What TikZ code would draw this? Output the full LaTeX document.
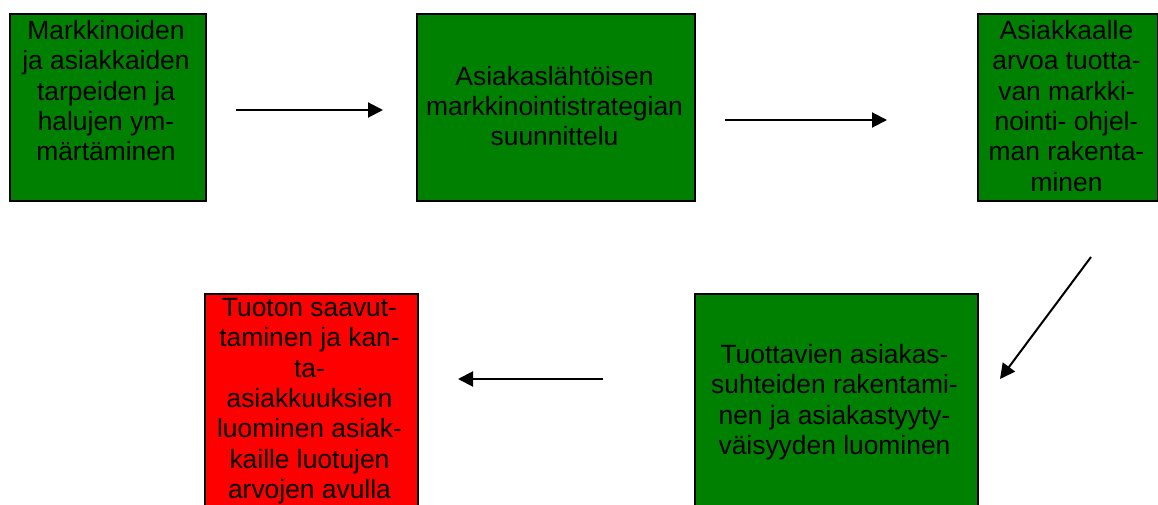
\documentclass[tikz,border=0pt]{standalone}
\usepackage{fontspec}
\setmainfont{Liberation Sans}
\usetikzlibrary{arrows.meta}
\definecolor{boxgreen}{RGB}{0,128,0}
\definecolor{boxred}{RGB}{255,0,0}
\tikzset{
  stepbox/.style={draw=black, line width=2pt, inner sep=0pt, anchor=north west},
  greenbox/.style={stepbox, fill=boxgreen},
  redbox/.style={stepbox, fill=boxred},
  boxtext/.style={align=center, inner sep=0pt, font=\fontsize{26.4}{30.4}\selectfont},
  flow/.style={line width=2pt, -{Triangle[length=15pt,width=15pt]}}
}
\begin{document}
\begin{tikzpicture}[x=1pt,y=-1pt]
\useasboundingbox (0,0) rectangle (1158,505);
\clip (0,0) rectangle (1158,505);
% boxes
\node[greenbox, minimum width=196pt, minimum height=186pt] (b1) at (8.5,13.5) {};
\node[greenbox, minimum width=278pt, minimum height=186pt] (b2) at (415.5,13.5) {};
\node[greenbox, minimum width=180pt, minimum height=186pt] (b3) at (976.5,13.5) {};
\node[greenbox, minimum width=283pt, minimum height=230pt] (b5) at (693.5,292.5) {};
\node[redbox, minimum width=213pt, minimum height=230pt] (b4) at (203.5,292.5) {};
% texts
\node[boxtext, anchor=north] (t1) at (106,20) {Markkinoiden\\ja asiakkaiden\\tarpeiden ja\\halujen ym-\\märtäminen};
\node[boxtext] (t2) at (554.5,106) {Asiakaslähtöisen\\markkinointistrategian\\suunnittelu};
\node[boxtext, anchor=north] (t3) at (1066.5,20) {Asiakkaalle\\arvoa tuotta-\\van markki-\\nointi- ohjel-\\man rakenta-\\minen};
\node[boxtext] (t5) at (834.5,402) {Tuottavien asiakas-\\suhteiden rakentami-\\nen ja asiakastyyty-\\väisyyden luominen};
\node[boxtext, anchor=north] (t4) at (309.5,298) {Tuoton saavut-\\taminen ja kan-\\ta-\\asiakkuuksien\\luominen asiak-\\kaille luotujen\\arvojen avulla};
% arrow ends
\coordinate (a1s) at (236,110);
\coordinate (a1e) at (383,110);
\coordinate (a2s) at (725,120);
\coordinate (a2e) at (887,120);
\coordinate (a3s) at (1091,257);
\coordinate (a3e) at (1000,379);
\coordinate (a4s) at (603,379);
\coordinate (a4e) at (458,379);
\draw[flow] (a1s) -- (a1e);
\draw[flow] (a2s) -- (a2e);
\draw[flow] (a3s) -- (a3e);
\draw[flow] (a4s) -- (a4e);
\end{tikzpicture}
\end{document}
